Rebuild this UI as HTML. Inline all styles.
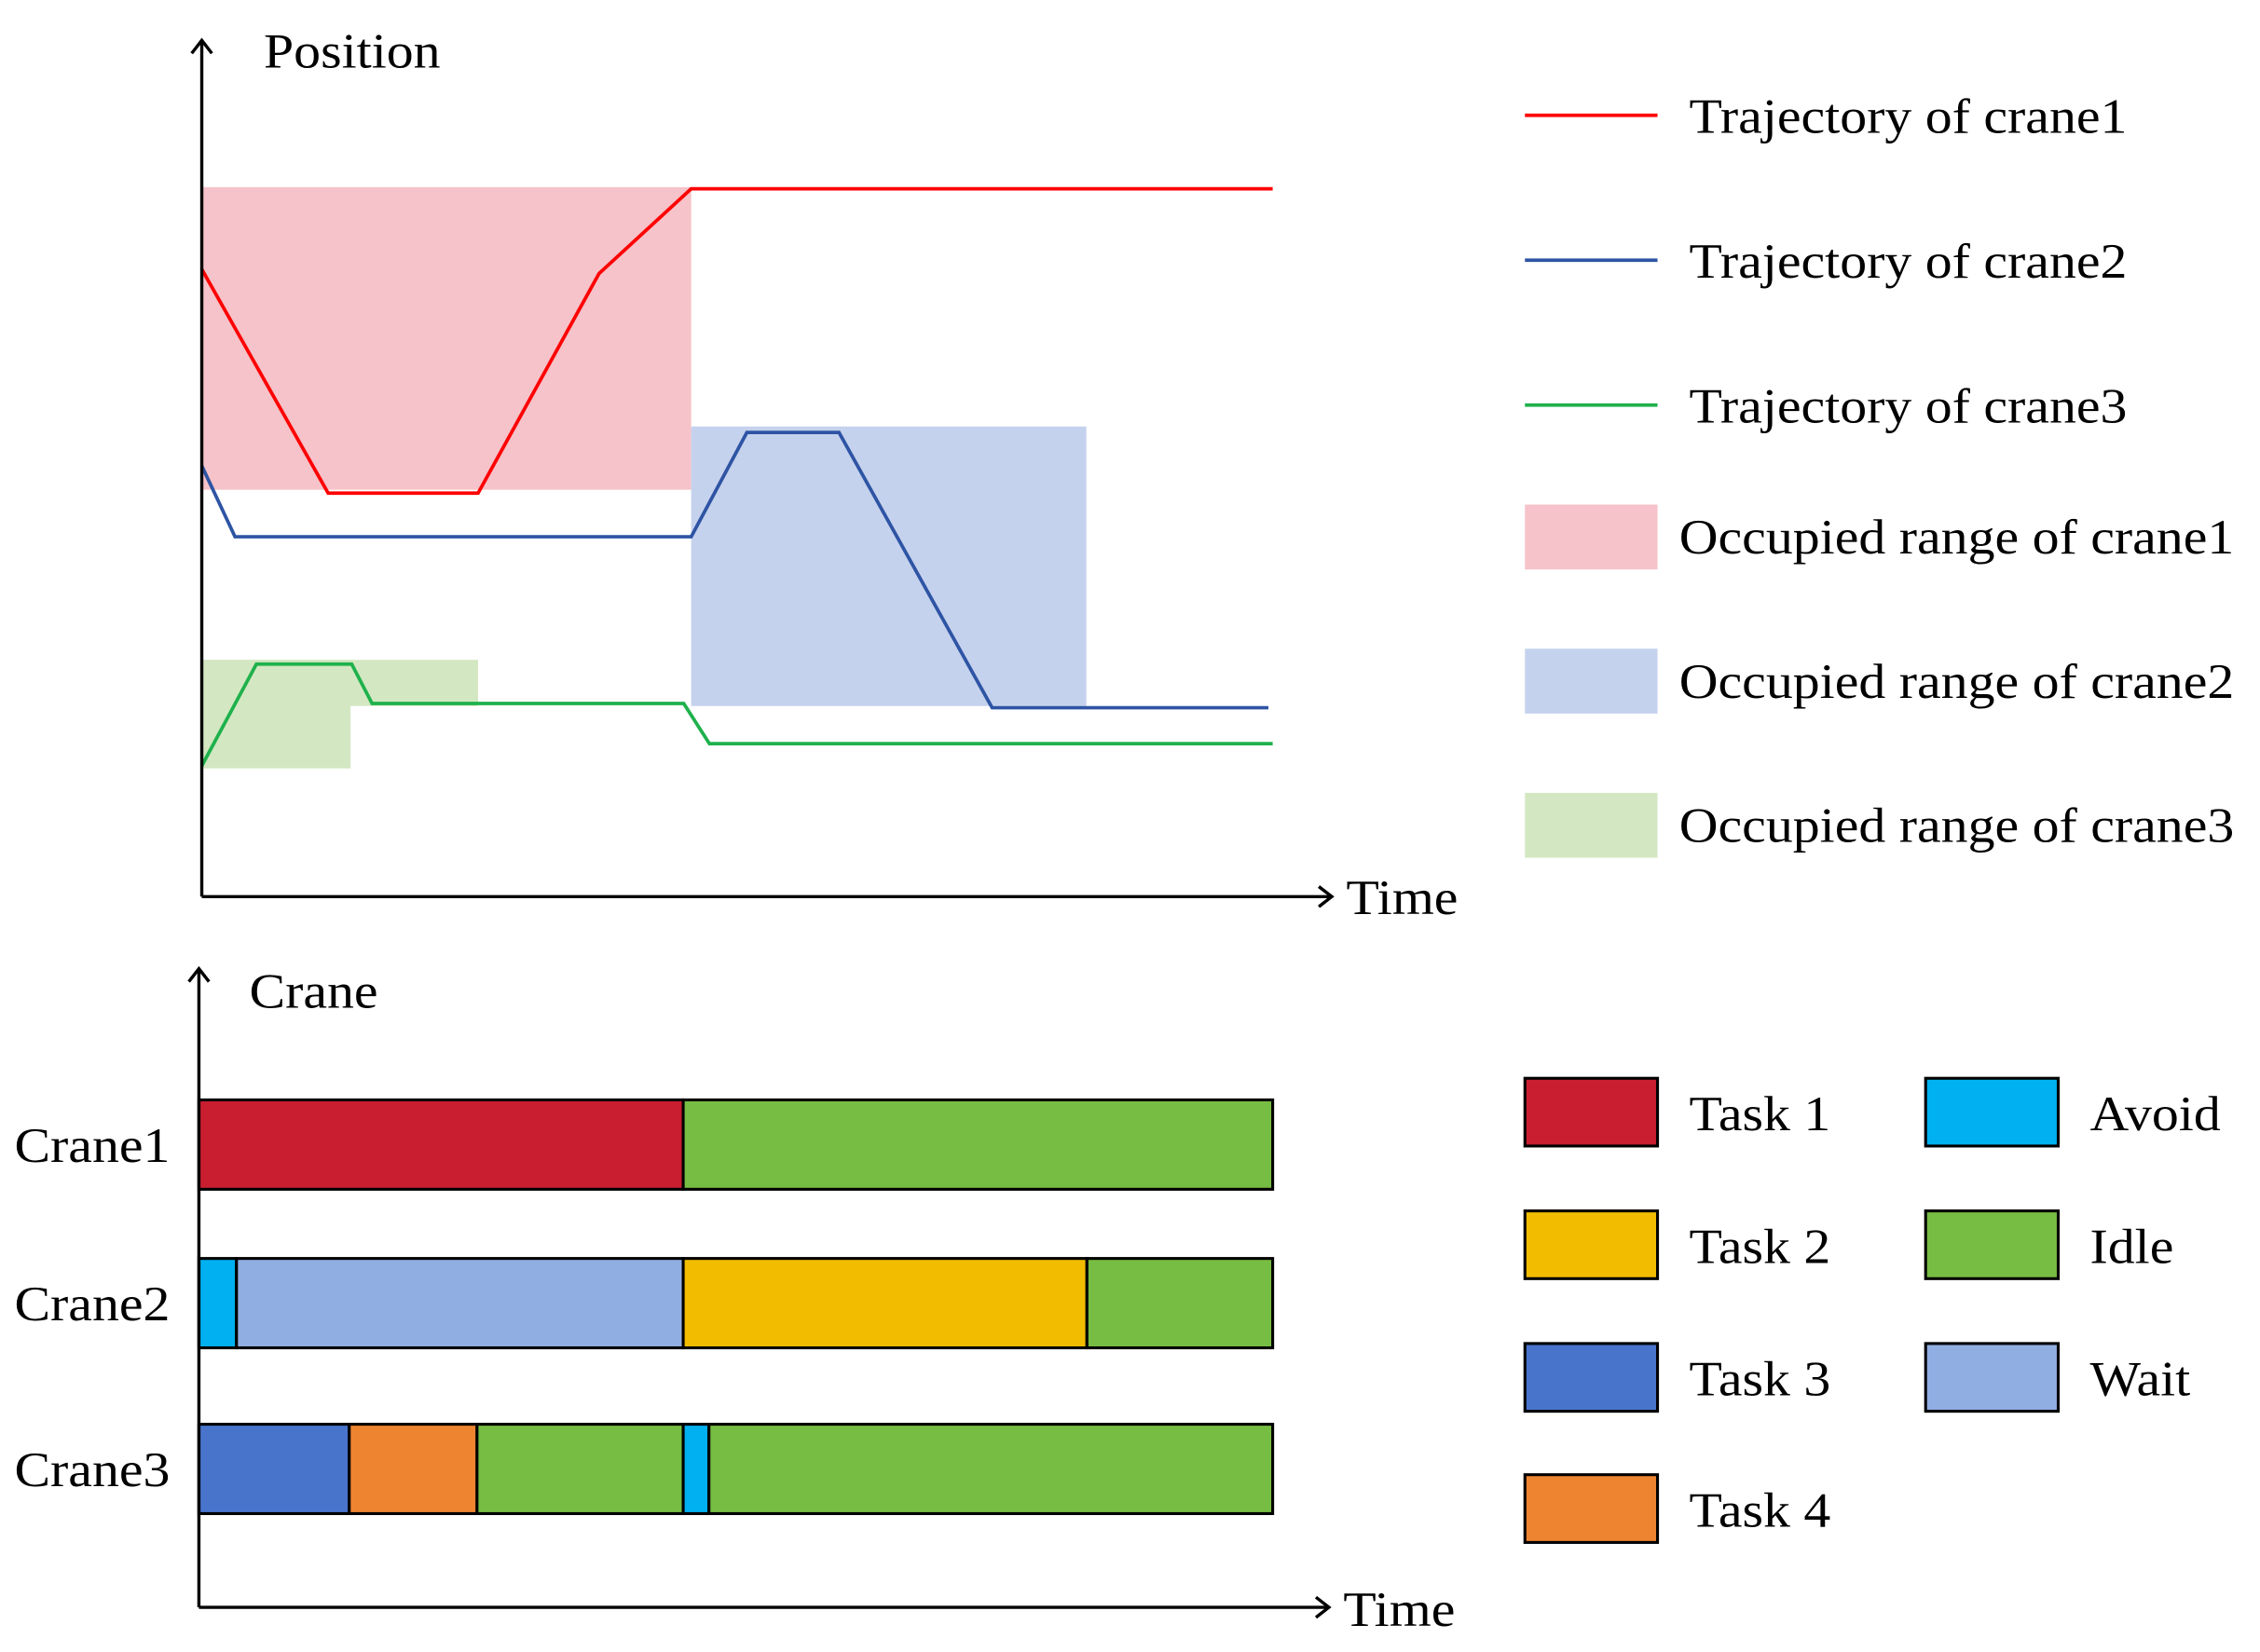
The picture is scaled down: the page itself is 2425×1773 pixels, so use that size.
<!DOCTYPE html>
<html><head><meta charset="utf-8"><style>
html,body{margin:0;padding:0;background:#fff;}
svg{display:block;font-family:"Liberation Serif",serif;}
</style></head><body>
<svg id="c" width="2425" height="1773" viewBox="0 0 1568 1146" preserveAspectRatio="none">
<defs><marker id="ar" markerWidth="20" markerHeight="20" refX="10" refY="8" orient="auto" markerUnits="userSpaceOnUse"><path d="M1,1 L10,8 L1,15" fill="none" stroke="#000" stroke-width="2.2"/></marker></defs>
<g id="topChart"></g>
<g id="botChart"></g>
<g id="axes">
<line x1="140" y1="622" x2="140" y2="28" stroke="#000" stroke-width="2.2" marker-end="url(#ar)"/>
<line x1="140" y1="622" x2="924" y2="622" stroke="#000" stroke-width="2.2" marker-end="url(#ar)"/>
<text x="183" y="47" font-size="34">Position</text>
<text x="934" y="634" font-size="34">Time</text>
<line x1="138" y1="1115" x2="138" y2="672" stroke="#000" stroke-width="2.2" marker-end="url(#ar)"/>
<line x1="138" y1="1115" x2="922" y2="1115" stroke="#000" stroke-width="2.2" marker-end="url(#ar)"/>
<text x="173" y="699" font-size="34">Crane</text>
<text x="932" y="1128" font-size="34">Time</text>
</g>
<g id="leg"></g>
</svg>
<script>
// Top chart data (time units 0..100 mapped to x 140..883; position 0..100 mapped y 622..29)
const trajTimes1 = [0, 11.8, 25.8, 37.1, 45.7, 100];
const trajPos1 = [73.4, 47.2, 47.2, 72.9, 82.8, 82.8];
const trajTimes2 = [0, 3.1, 45.7, 50.9, 59.5, 73.8, 99.6];
const trajPos2 = [50.4, 42.1, 42.1, 54.3, 54.3, 22.1, 22.1];
const trajTimes3 = [0, 5.1, 14, 15.9, 45, 47.4, 100];
const trajPos3 = [15.3, 27.2, 27.2, 22.6, 22.6, 17.9, 17.9];
const rangeNames = ['occupied-range-crane1','occupied-range-crane2','occupied-range-crane3a','occupied-range-crane3b'];
const rangeT0 = [0, 45.7, 0, 0];
const rangeT1 = [45.7, 82.6, 25.8, 13.9];
const rangeP0 = [47.6, 22.3, 22.3, 15.0];
const rangeP1 = [83.0, 55.0, 27.7, 27.7];
// Gantt data
const craneNames = ['Crane1','Crane2','Crane3'];
const segCrane = [0,0,1,1,1,1,2,2,2,2,2];
const segStart = [0,45.1,0,3.5,45.1,82.7,0,14,25.9,45.1,47.5];
const segEnd = [45.1,100,3.5,45.1,82.7,100,14,25.9,45.1,47.5,100];
const segType = ['Task 1','Idle','Avoid','Wait','Task 2','Idle','Task 3','Task 4','Idle','Avoid','Idle'];
const typeNames = ['Task 1','Task 2','Task 3','Task 4','Avoid','Idle','Wait'];
const typeColors = ['#c81e30','#f2bc00','#4874cc','#ee8430','#00b0f0','#77bd43','#91aee2'];

const NS='http://www.w3.org/2000/svg';
function mk(p,tag,attrs){const e=document.createElementNS(NS,tag);for(const k in attrs)e.setAttribute(k,attrs[k]);p.appendChild(e);return e;}
const tx = t => 140 + t*(883-140)/100;
const py = p => 622 - p*(622-29)/100;
const gx = t => 138 + t*(883-138)/100;
const rowTop = [763, 873, 988];
const rowH = 62;

const topG=document.getElementById('topChart');
const rangeColors=['#f5c3c9','#c5d2ed','#d3e8c2','#d3e8c2'];
for(let i=0;i<rangeT0.length;i++){
  const r=mk(topG,'rect',{x:tx(rangeT0[i]),y:py(rangeP1[i]),width:tx(rangeT1[i])-tx(rangeT0[i]),height:py(rangeP0[i])-py(rangeP1[i]),fill:rangeColors[i]});
  
  
}
const trajs=[[trajTimes1,trajPos1,'#ff0000','trajectory-crane1'],[trajTimes2,trajPos2,'#2e54a4','trajectory-crane2'],[trajTimes3,trajPos3,'#1fb14c','trajectory-crane3']];
trajs.forEach(([T,P,c,n])=>{
  const pts=T.map((t,i)=>tx(t)+','+py(P[i])).join(' ');
  const l=mk(topG,'polyline',{points:pts,fill:'none',stroke:c,'stroke-width':2.4});
  
  
});

const botG=document.getElementById('botChart');
for(let i=0;i<segStart.length;i++){
  const ci=typeNames.indexOf(segType[i]);
  const r=mk(botG,'rect',{x:gx(segStart[i]),y:rowTop[segCrane[i]],width:gx(segEnd[i])-gx(segStart[i]),height:rowH,fill:typeColors[ci],stroke:'#000','stroke-width':2});
  
  
}
craneNames.forEach((n,i)=>{
  const t=mk(botG,'text',{x:10,y:rowTop[i]+rowH/2+12,'font-size':34});
  t.textContent=n;
  
  
});

const leg=document.getElementById('leg');
const legLines=[['Trajectory of crane1','#ff0000'],['Trajectory of crane2','#2e54a4'],['Trajectory of crane3','#1fb14c']];
legLines.forEach(([n,c],i)=>{
  const y=80+i*100.5;
  const l=mk(leg,'line',{x1:1058,y1:y,x2:1150,y2:y,stroke:c,'stroke-width':2.4});
  
  
  const t=mk(leg,'text',{x:1172,y:y+12,'font-size':34});t.textContent=n;
  
  
});
const legRects=[['Occupied range of crane1','#f5c3c9'],['Occupied range of crane2','#c5d2ed'],['Occupied range of crane3','#d3e8c2']];
legRects.forEach(([n,c],i)=>{
  const y=350+i*100;
  const r=mk(leg,'rect',{x:1058,y:y,width:92,height:45,fill:c});
  
  
  const t=mk(leg,'text',{x:1165,y:y+34,'font-size':34});t.textContent=n;
  
  
});
const legPos=[[1058,748],[1058,840],[1058,932],[1058,1023],[1336,748],[1336,840],[1336,932]];
typeNames.forEach((n,i)=>{
  const [x,y]=legPos[i];
  const r=mk(leg,'rect',{x:x,y:y,width:92,height:47,fill:typeColors[i],stroke:'#000','stroke-width':2});
  
  
  const t=mk(leg,'text',{x:x+114,y:y+36,'font-size':34});t.textContent=n;
  
  
});
// widen text horizontally to match reference glyph proportions
document.querySelectorAll('#c text').forEach(t=>{
  const x=parseFloat(t.getAttribute('x'));
  t.setAttribute('transform','translate('+x+',0) scale(1.1,1) translate('+(-x)+',0)');
});
</script>
</body></html>
